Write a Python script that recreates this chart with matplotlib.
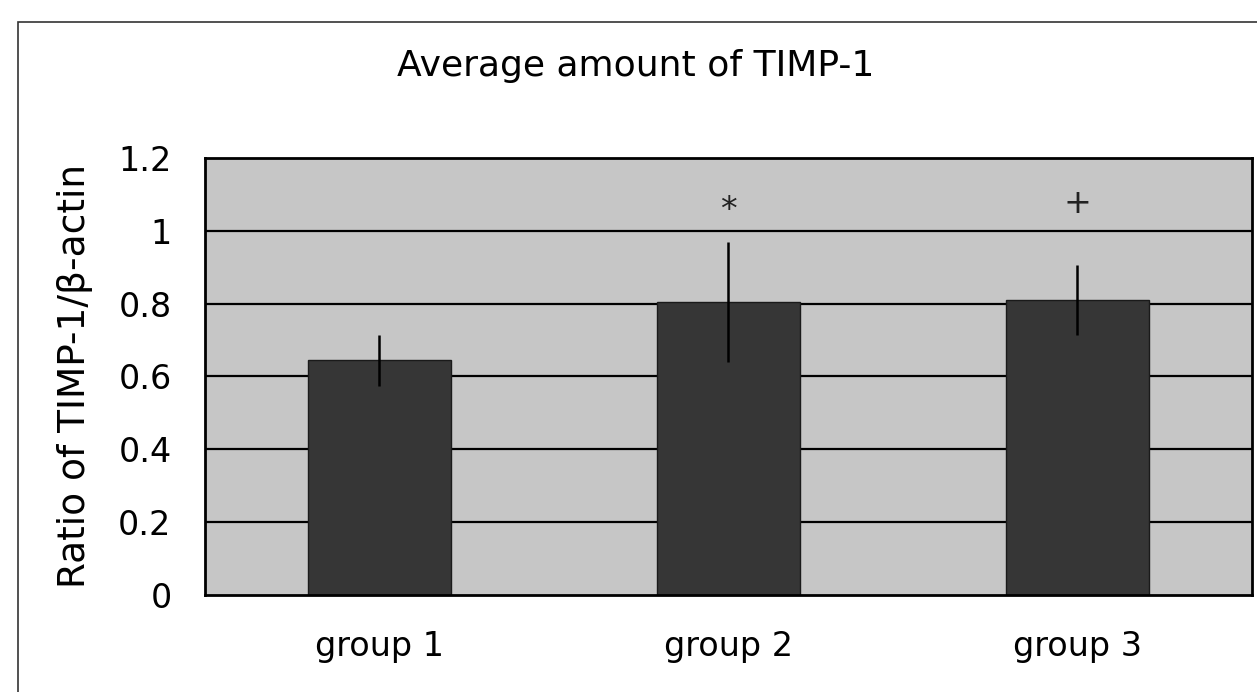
import matplotlib.pyplot as plt
from matplotlib.patches import Rectangle

groups = ['group 1', 'group 2', 'group 3']
means = [0.645, 0.805, 0.81]
errors = [0.07, 0.165, 0.095]
marks = ['', '*', '+']
mark_y = [0, 1.055, 1.075]
yticks = [0, 0.2, 0.4, 0.6, 0.8, 1.0, 1.2]
ytick_labels = ['0', '0.2', '0.4', '0.6', '0.8', '1', '1.2']

plt.rcParams['font.family'] = ['DejaVu Sans']

fig = plt.figure(figsize=(12.57, 6.92), dpi=100)
ax = fig.add_axes([0.163, 0.140, 0.833, 0.632])

ax.set_facecolor('#c6c6c6')
ax.set_xlim(-0.5, 2.5)
ax.set_ylim(0, 1.2)

# horizontal gridlines, behind the bars
for y in yticks[1:-1]:
    ax.axhline(y, color='black', lw=1.6, zorder=1)

x = list(range(len(groups)))
ax.bar(x, means, width=0.41, color='#363636', edgecolor='#1a1a1a', lw=1, zorder=2)
ax.errorbar(x, means, yerr=errors, fmt='none', ecolor='black', elinewidth=1.8,
            capsize=0, zorder=3)

for xi, m, my in zip(x, marks, mark_y):
    if m:
        ax.text(xi, my, m, ha='center', va='center', fontsize=24, color='#222222')

ax.set_yticks(yticks)
ax.set_yticklabels(ytick_labels, fontsize=24, va='center_baseline')
ax.set_xticks(x)
ax.set_xticklabels(groups, fontsize=24)
ax.tick_params(axis='y', length=0, pad=24)
ax.tick_params(axis='x', length=0, pad=25)
for sp in ax.spines.values():
    sp.set_linewidth(2)
    sp.set_color('black')

ax.set_ylabel('Ratio of TIMP-1/β-actin', fontsize=27)
ax.yaxis.set_label_coords(-0.107, 0.5)
fig.text(0.506, 0.905, 'Average amount of TIMP-1', ha='center', va='center', fontsize=26)

# outer frame of the scanned figure
fig.add_artist(Rectangle((0.014, -0.05), 1.2, 1.018, transform=fig.transFigure,
                         fill=False, edgecolor='#333333', lw=1.2))

fig.savefig('out.png', dpi=100, facecolor='white')
